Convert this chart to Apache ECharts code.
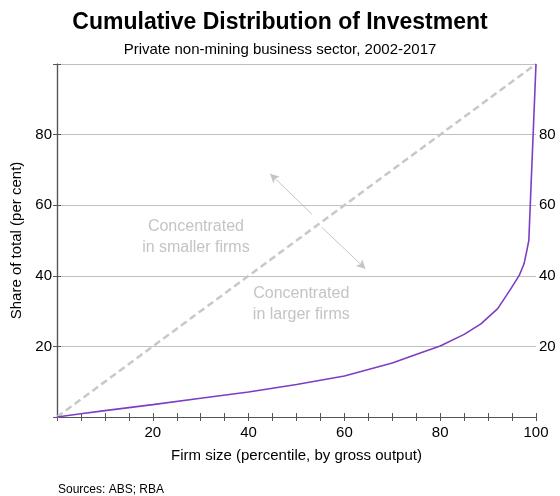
<!DOCTYPE html>
<html><head><meta charset="utf-8">
<script src="https://cdn.jsdelivr.net/npm/echarts@6/dist/echarts.min.js"></script>
<style>html,body{margin:0;padding:0;background:#fff}#c{width:560px;height:496px}</style>
</head><body><div id="c"></div>
<script>
var percentiles = [0, 5, 10, 20, 30, 40, 50, 60, 67.5, 70, 74.5, 80, 85, 88.5, 92, 94.5, 96.5, 97.5, 98.1, 98.5, 100];
var investmentShare = [0, 0.9, 1.8, 3.5, 5.3, 7.1, 9.2, 11.6, 14.4, 15.3, 17.5, 20.1, 23.4, 26.4, 30.7, 35.8, 40.1, 43.4, 47.2, 50.0, 100];
var equalityLine = [[0, 0], [100, 100]];
var xTickLabels = [20, 40, 60, 80, 100];
var yTickLabels = [20, 40, 60, 80];
var arrowUp = [[53.2, 57.5], [44.5, 68.9]];
var arrowDown = [[55.3, 53.7], [64.4, 42.0]];
var labelSmaller = {coord: [29, 51], text: 'Concentrated\nin smaller firms'};
var labelLarger = {coord: [51, 32], text: 'Concentrated\nin larger firms'};

var FONT = 'Liberation Sans, Arial, sans-serif';
var chart = echarts.init(document.getElementById('c'), null, {renderer: 'canvas'});
var axisLineStyle = {color: '#555', width: 1.2};
var option = {
  animation: false,
  textStyle: {fontFamily: FONT},
  title: [
    {text: 'Cumulative Distribution of Investment', left: 'center', top: 6,
     textStyle: {fontFamily: FONT, fontSize: 23, fontWeight: 'bold', color: '#000'}},
    {text: 'Private non-mining business sector, 2002-2017', left: 'center', top: 37,
     textStyle: {fontFamily: FONT, fontSize: 15, fontWeight: 'normal', color: '#000'}},
    {text: 'Sources: ABS; RBA', left: 53, top: 479,
     textStyle: {fontFamily: FONT, fontSize: 12, fontWeight: 'normal', color: '#000'}}
  ],
  grid: {left: 57, right: 24, top: 64, bottom: 79},
  xAxis: [
    {type: 'value', min: 0, max: 100, interval: 5, position: 'bottom',
     name: 'Firm size (percentile, by gross output)', nameLocation: 'middle', nameGap: 31,
     nameTextStyle: {fontFamily: FONT, fontSize: 15, color: '#000'},
     axisLine: {show: true, lineStyle: axisLineStyle},
     axisTick: {show: true, inside: true, length: 4, lineStyle: {color: '#555'}},
     axisLabel: {fontFamily: FONT, fontSize: 15, color: '#000', margin: 8,
       formatter: function (v) { return xTickLabels.indexOf(v) >= 0 ? String(v) : ''; }},
     splitLine: {show: false}},
    {type: 'value', min: 0, max: 100, interval: 5, position: 'top',
     axisLine: {show: true, lineStyle: axisLineStyle},
     axisTick: {show: true, inside: true, length: 4, lineStyle: {color: '#555'}},
     axisLabel: {show: false}, splitLine: {show: false}}
  ],
  yAxis: [
    {type: 'value', min: 0, max: 100, interval: 20, position: 'left',
     name: 'Share of total (per cent)', nameLocation: 'middle', nameGap: 31, nameRotate: 90,
     nameTextStyle: {fontFamily: FONT, fontSize: 15, color: '#000'},
     axisLine: {show: true, lineStyle: axisLineStyle},
     axisTick: {show: true, inside: false, length: 4, lineStyle: {color: '#555'}},
     axisLabel: {fontFamily: FONT, fontSize: 15, color: '#000', margin: 5,
       formatter: function (v) { return yTickLabels.indexOf(v) >= 0 ? String(v) : ''; }},
     splitLine: {show: true, lineStyle: {color: '#c0c0c0', width: 1}}},
    {type: 'value', min: 0, max: 100, interval: 20, position: 'right',
     axisLine: {show: true, lineStyle: axisLineStyle},
     axisTick: {show: true, inside: false, length: 4, lineStyle: {color: '#555'}},
     axisLabel: {fontFamily: FONT, fontSize: 15, color: '#000', margin: 3,
       formatter: function (v) { return yTickLabels.indexOf(v) >= 0 ? String(v) : ''; }},
     splitLine: {show: false}}
  ],
  series: [
    {type: 'line', data: equalityLine, symbol: 'none', silent: true,
     lineStyle: {color: '#c8c8c8', width: 2.5, type: [7, 4]},
     markLine: {silent: true, symbol: ['none', 'arrow'], symbolSize: [7, 9],
       lineStyle: {color: '#c4c4c4', width: 1, type: 'solid'}, label: {show: false},
       data: [
         [{coord: arrowUp[0]}, {coord: arrowUp[1]}],
         [{coord: arrowDown[0]}, {coord: arrowDown[1]}]
       ]},
     markPoint: {silent: true, symbol: 'circle', symbolSize: 0,
       label: {show: true, position: 'inside', align: 'center', verticalAlign: 'middle',
         fontFamily: FONT, fontSize: 16, lineHeight: 21, color: '#c4c4c4',
         formatter: function (p) { return p.name; }},
       data: [
         {name: labelSmaller.text, coord: labelSmaller.coord},
         {name: labelLarger.text, coord: labelLarger.coord}
       ]}
    },
    {type: 'line', data: percentiles.map(function (x, i) { return [x, investmentShare[i]]; }),
     symbol: 'none', smooth: false,
     lineStyle: {color: '#7b3fc4', width: 1.6}}
  ]
};
chart.setOption(option);
</script>
</body></html>
